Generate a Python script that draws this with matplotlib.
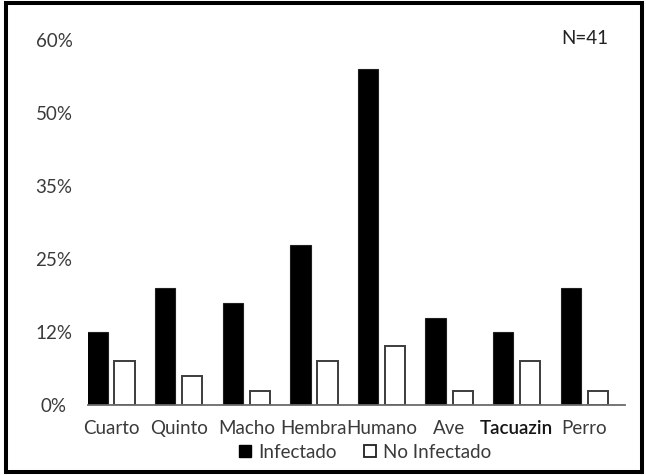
import numpy as np
import matplotlib
matplotlib.use('Agg')
import matplotlib.pyplot as plt
from matplotlib.lines import Line2D
from matplotlib.patches import Rectangle

plt.rcParams['font.family'] = ['Lato', 'DejaVu Sans']

# porcentaje de casos (n=41) por categoria
categorias = ['Cuarto', 'Quinto', 'Macho', 'Hembra', 'Humano', 'Ave', 'Tacuazin', 'Perro']
infectado = [12.2, 19.5, 17.1, 26.8, 56.1, 14.6, 12.2, 19.5]
no_infectado = [7.3, 4.9, 2.4, 7.3, 9.8, 2.4, 7.3, 2.4]
etiquetas_y = ['0%', '12%', '25%', '35%', '50%', '60%']
n_total = 41

text_color = '#3a3a3a'
fs = 13.5

fig = plt.figure(figsize=(6.46, 4.75), dpi=100)
ax = fig.add_axes([0.1362, 0.1474, 0.8313, 0.7806])

x = np.arange(len(categorias))
w = 0.30
ax.bar(x - 0.2, infectado, width=w, color='black', edgecolor='#202020', linewidth=0.8)
ax.bar(x + 0.2, no_infectado, width=w, color='white', edgecolor='#3c3c3c', linewidth=1.4)

ax.set_xlim(-0.34, 7.6)
ax.set_ylim(0, 62)

ax.set_xticks(x)
ax.set_xticklabels(categorias, fontsize=fs, color=text_color)
ax.get_xticklabels()[6].set_color('#151515')
ax.get_xticklabels()[6].set_fontweight('semibold')

ax.set_yticks(np.arange(len(etiquetas_y)) * 500 / n_total)
ax.set_yticklabels(etiquetas_y, fontsize=fs, color=text_color)
for lbl in ax.get_yticklabels():
    lbl.set_horizontalalignment('center')
ax.tick_params(axis='y', length=0, pad=24.5)
ax.tick_params(axis='x', length=0, pad=11)

for side in ['top', 'right', 'left']:
    ax.spines[side].set_visible(False)
ax.spines['bottom'].set_color('#6a6a6a')
ax.spines['bottom'].set_linewidth(1.3)

handles = [
    Line2D([], [], marker='s', linestyle='none', markersize=8.5,
           markerfacecolor='black', markeredgecolor='black'),
    Line2D([], [], marker='s', linestyle='none', markersize=8.5,
           markerfacecolor='white', markeredgecolor='#202020', markeredgewidth=1.3),
]
leg = fig.legend(handles, ['Infectado', 'No Infectado'], loc='center',
                 bbox_to_anchor=(364.5 / 646, 0.048), ncol=2, frameon=False,
                 fontsize=fs, handlelength=0.8, handletextpad=0.3,
                 columnspacing=1.4, borderaxespad=0)
for t in leg.get_texts():
    t.set_color(text_color)

fig.text(585 / 646, 1 - 39 / 475, 'N=%d' % n_total, fontsize=fs,
         color='#222222', ha='center', va='center')

# marco exterior
fig.patches.append(Rectangle((0.01, 0.0053), 0.9837, 0.9884, transform=fig.transFigure,
                             fill=False, edgecolor='black', linewidth=2.9))

fig.savefig('out.png', dpi=100)
